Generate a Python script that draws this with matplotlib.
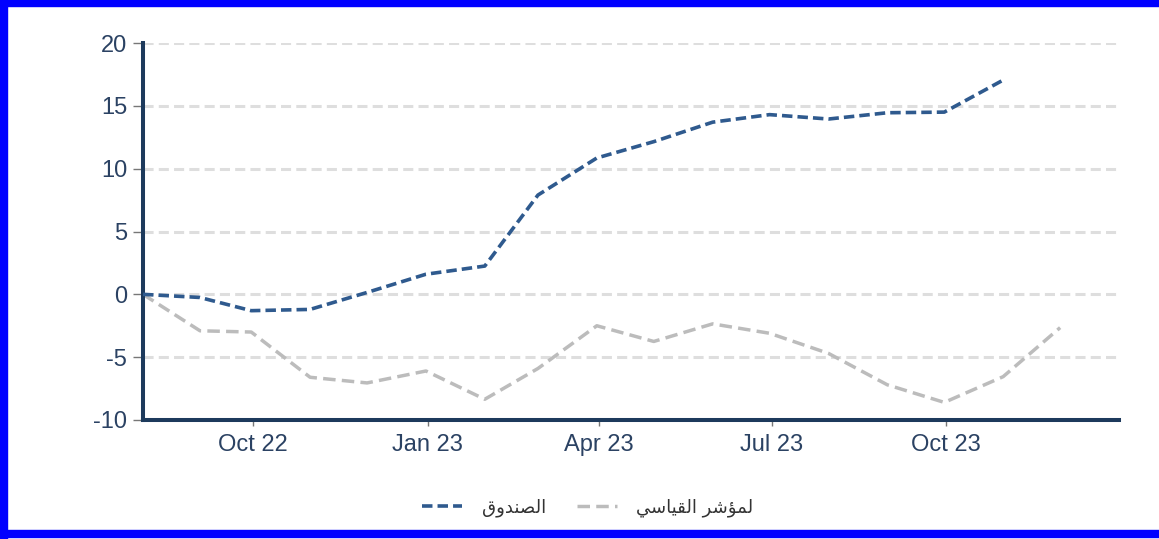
import numpy as np
import pandas as pd
import matplotlib
matplotlib.use("Agg")
import matplotlib.pyplot as plt
import matplotlib.dates as mdates
from matplotlib.patches import Rectangle

plt.rcParams["axes.unicode_minus"] = False

dates = pd.to_datetime([
    "2022-08-04", "2022-09-03", "2022-09-30", "2022-10-31", "2022-11-30",
    "2022-12-31", "2023-01-31", "2023-02-28", "2023-03-31", "2023-04-30",
    "2023-05-31", "2023-06-30", "2023-07-31", "2023-08-31", "2023-09-30",
    "2023-10-31", "2023-11-30",
])
x_start, x_end = pd.Timestamp("2022-08-04"), pd.Timestamp("2023-12-31")

fund = [0, -0.25, -1.3, -1.2, 0.15, 1.6, 2.25, 7.9, 10.85, 12.15, 13.7,
        14.3, 13.95, 14.45, 14.5, 17.05]
bench = [0, -2.9, -3.0, -6.6, -7.05, -6.1, -8.35, -5.9, -2.5, -3.75, -2.35,
         -3.1, -4.7, -7.2, -8.6, -6.55, -2.65]

# Arabic labels in presentation forms, visual order (matplotlib has no shaping)
label_fund = "\ufed5\ufeed\ufeaa\ufee8\ufebc\ufedf\ufe8d"          # الصندوق
label_bench = ("\ufef2\ufeb3\ufe8e\ufef4\ufed8\ufedf\ufe8d "
               "\ufeae\ufeb7\ufe86\ufee4\ufedf")                     # لمؤشر القياسي

col_fund = "#2f5a8e"
col_bench = "#bcbcbc"
col_axis = "#1d3a5c"
col_text = "#2b4263"

fig = plt.figure(figsize=(11.59, 5.39), dpi=100, facecolor="white")
ax = fig.add_axes([143 / 1159, 1 - 420 / 539, 976 / 1159, 377 / 539])

ax.plot(dates[:len(fund)], fund, color=col_fund, lw=2.6,
        linestyle=(0, (2.9, 1.4)), dash_joinstyle="round", label=label_fund,
        zorder=3)
ax.plot(dates, bench, color=col_bench, lw=2.5,
        linestyle=(0, (3.6, 1.8)), dash_joinstyle="round", label=label_bench,
        zorder=2)

ax.set_xlim(x_start, x_end)
ax.set_ylim(-10, 20)
ax.set_yticks(np.arange(-10, 21, 5))
ax.xaxis.set_major_locator(mdates.MonthLocator(bymonth=[1, 4, 7, 10]))
ax.xaxis.set_major_formatter(mdates.DateFormatter("%b %y"))

ax.set_axisbelow(True)
ax.grid(axis="y", color="#dedede", lw=2.2, linestyle=(0, (3.3, 1.7)))

for s in ["top", "right"]:
    ax.spines[s].set_visible(False)
for s in ["left", "bottom"]:
    ax.spines[s].set_color(col_axis)
    ax.spines[s].set_linewidth(2.9)

ax.tick_params(axis="y", length=7.5, width=1, color="#777777", pad=4,
               labelsize=17, labelcolor=col_text)
ax.tick_params(axis="x", length=4, width=1, color="#777777", pad=6,
               labelsize=17, labelcolor=col_text)
for lbl in ax.get_xticklabels() + ax.get_yticklabels():
    lbl.set_family("Liberation Sans")

leg = fig.legend(loc="center", bbox_to_anchor=(588 / 1159, 1 - 508 / 539),
                 ncol=2, frameon=False, handlelength=2.2,
                 handletextpad=1.1, columnspacing=1.7,
                 prop={"family": "DejaVu Sans", "size": 13})
for t in leg.get_texts():
    t.set_color("#333333")

# blue frame around the chart
fig.patches.append(Rectangle((0, 1 - 6 / 539), 1, 6 / 539, transform=fig.transFigure,
                             color="#0000ff", zorder=10))
fig.patches.append(Rectangle((0, 0), 7 / 1159, 1, transform=fig.transFigure,
                             color="#0000ff", zorder=10))
fig.patches.append(Rectangle((0, 2 / 539), 1, 7 / 539, transform=fig.transFigure,
                             color="#0000ff", zorder=10))

fig.savefig("out.png", dpi=100, facecolor="white")
